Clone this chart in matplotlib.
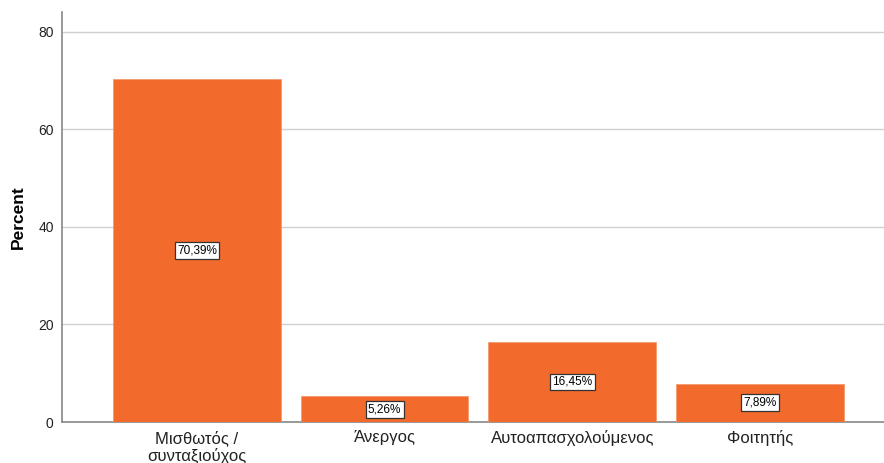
import matplotlib
matplotlib.use("Agg")
import matplotlib.pyplot as plt

categories = ["Μισθωτός /\nσυνταξιούχος", "Άνεργος", "Αυτοαπασχολούμενος", "Φοιτητής"]
values = [70.39, 5.26, 16.45, 7.89]
yticks = [0, 20, 40, 60, 80]

plt.rcParams['font.family'] = ['Liberation Sans', 'DejaVu Sans']

fig = plt.figure(figsize=(8.84, 4.63), dpi=100)
ax = fig.add_axes([62/884, 41/463, 822/884, 410/463])

x = list(range(len(categories)))
ax.bar(x, values, width=0.894, color='#F26A2C', edgecolor='#F59A70', linewidth=0.6, zorder=3)

for xi, v in zip(x, values):
    ax.text(xi, v/2, f"{v:.2f}%".replace('.', ','), ha='center', va='center', fontsize=8.5,
            color='black', zorder=4,
            bbox=dict(boxstyle='square,pad=0.2', facecolor='white', edgecolor='#333333', linewidth=0.9))

ax.set_xlim(-0.718, 3.66)
ax.set_ylim(0, 84.1)
ax.set_yticks(yticks)
ax.yaxis.grid(True, color='#D0D0D0', linewidth=1.0, zorder=0)
ax.set_axisbelow(True)
ax.set_xticks(x)
ax.set_xticklabels(categories, fontsize=12, color='#222222', linespacing=1.15)
ax.tick_params(axis='both', length=0)
ax.tick_params(axis='y', labelsize=10, colors='#222222', pad=6)
ax.tick_params(axis='x', pad=6)
for s in ['top', 'right']:
    ax.spines[s].set_visible(False)
for s in ['left', 'bottom']:
    ax.spines[s].set_color('#888888')
    ax.spines[s].set_linewidth(1.2)
ax.set_ylabel('Percent', fontsize=12.5, fontweight='bold')
ax.yaxis.set_label_coords(-36/822, 0.5)

fig.savefig('out.png', dpi=100)
